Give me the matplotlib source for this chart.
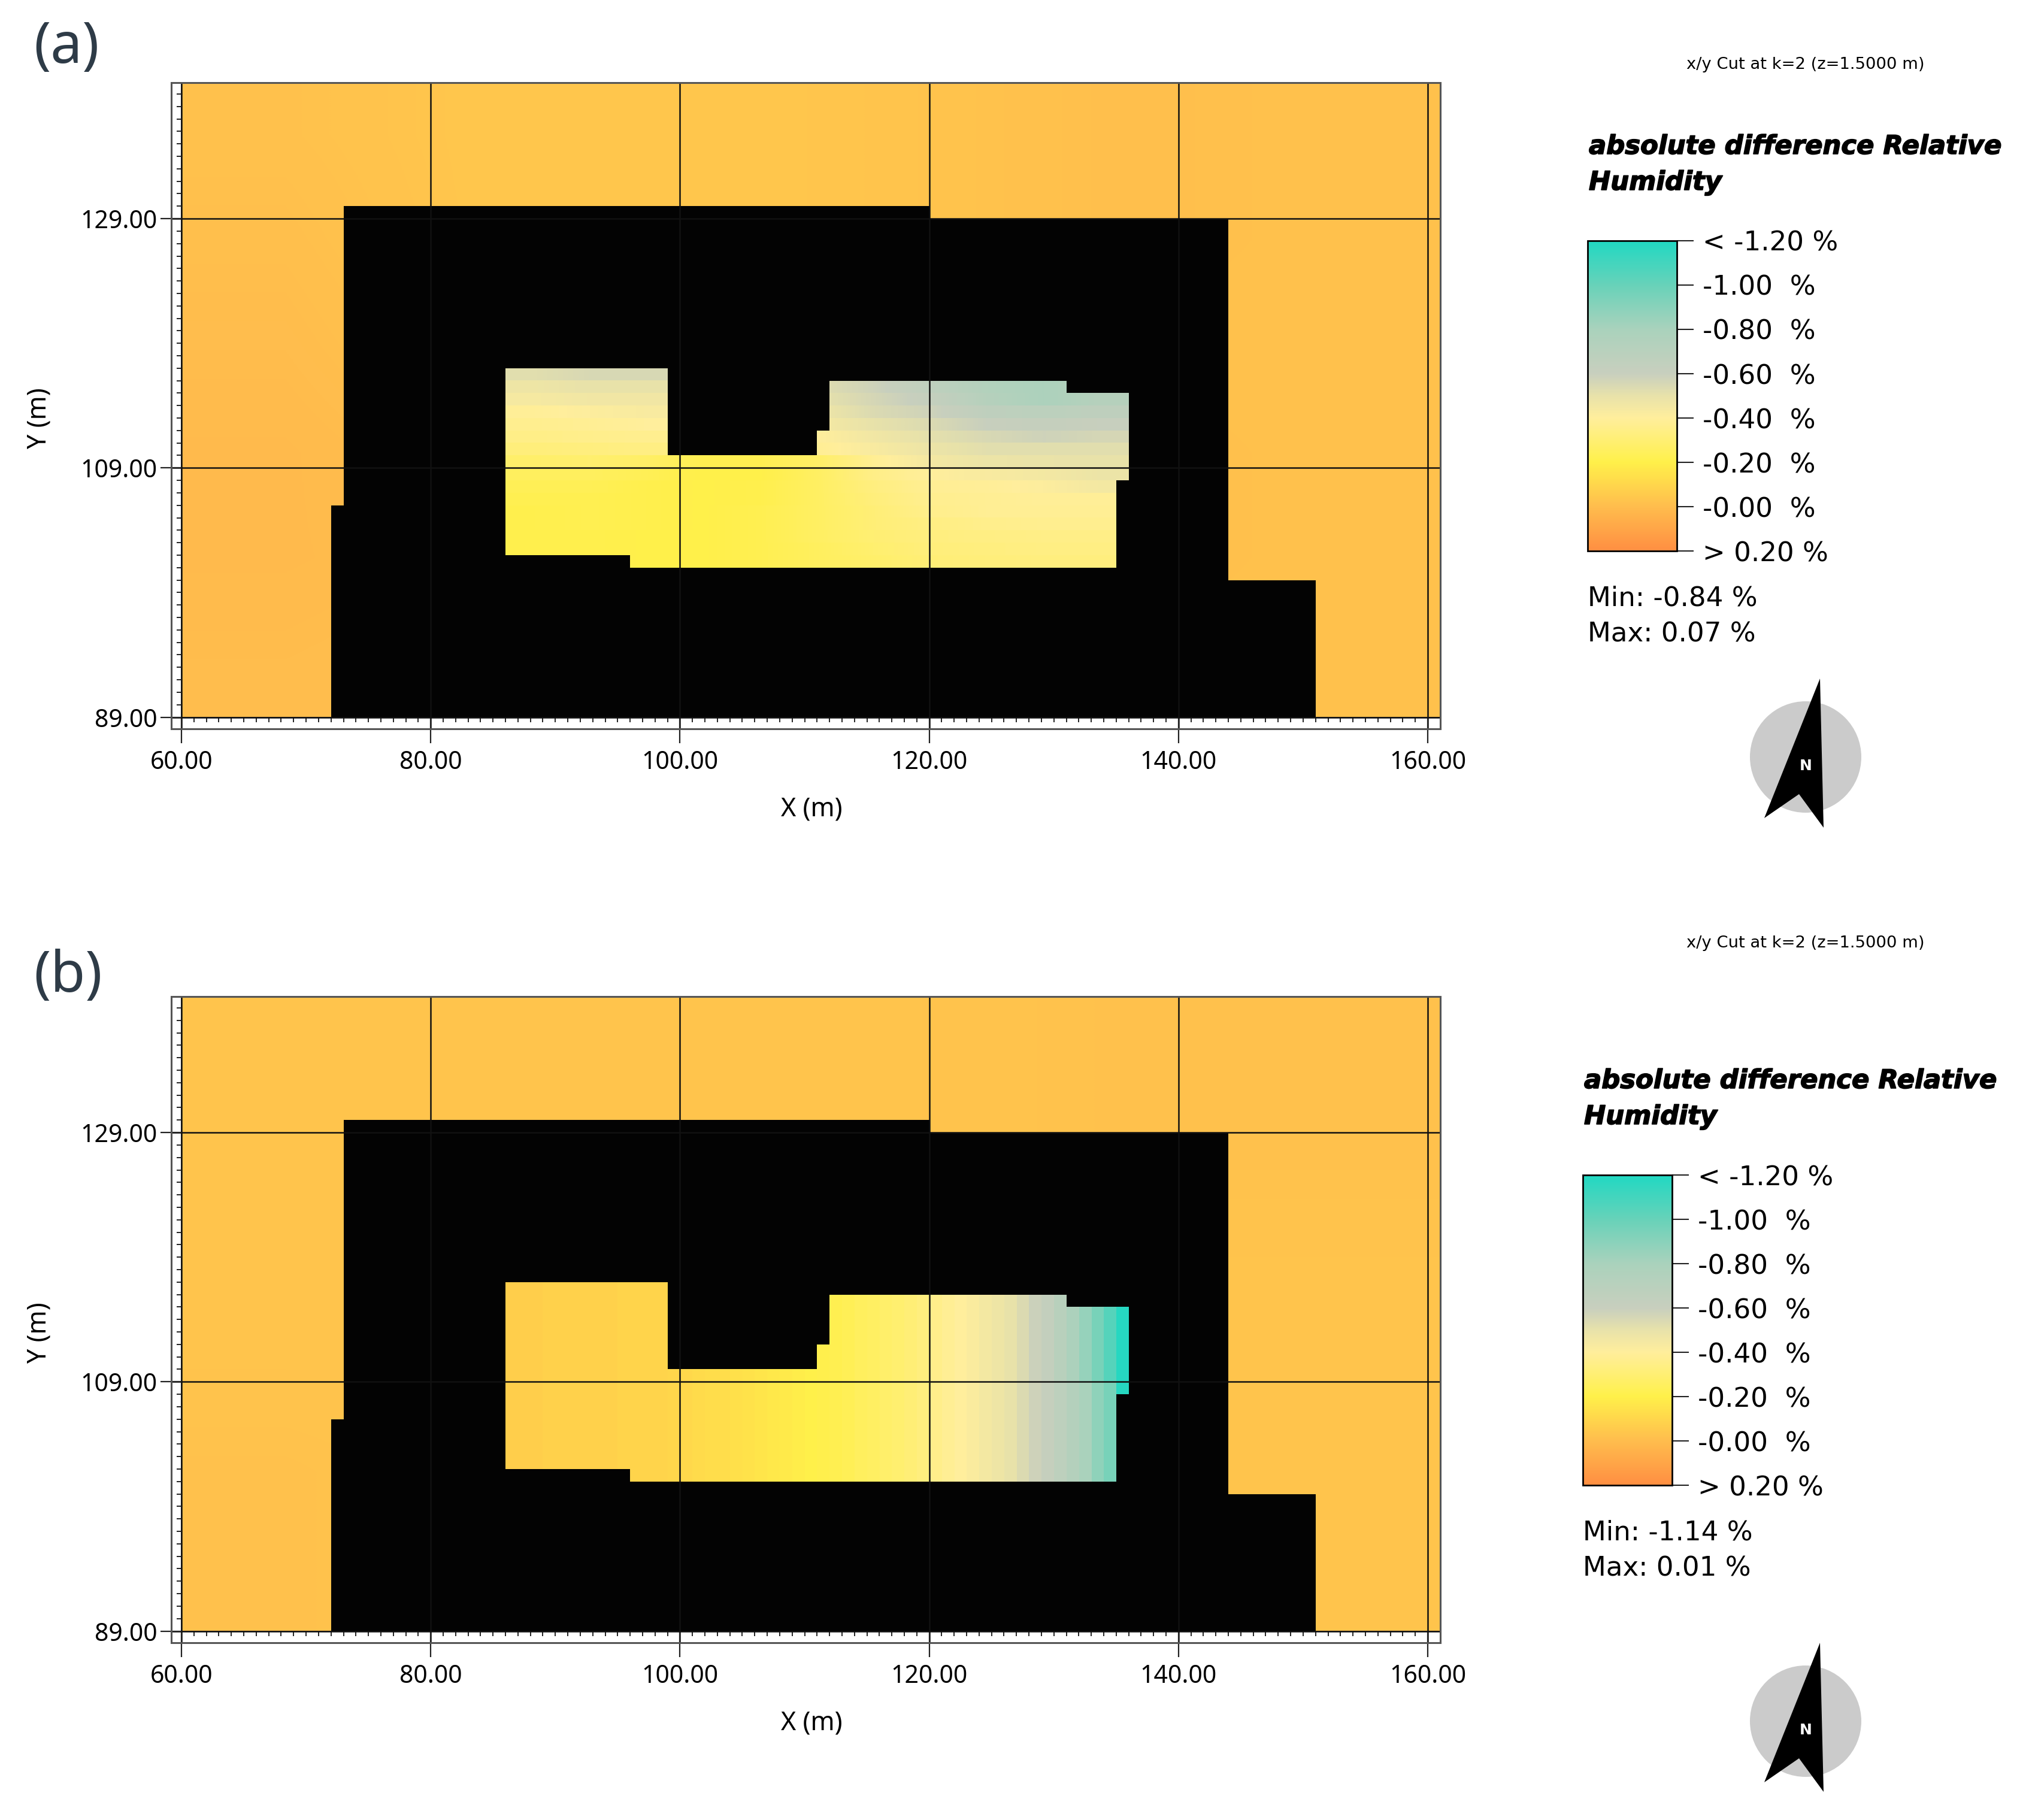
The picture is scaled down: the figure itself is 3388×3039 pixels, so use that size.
import numpy as np
import matplotlib
matplotlib.use('Agg')
import matplotlib.pyplot as plt
import matplotlib.patheffects as pe
from matplotlib.colors import LinearSegmentedColormap, Normalize
from matplotlib.cm import ScalarMappable
from matplotlib.patches import PathPatch, Rectangle, Ellipse, Polygon
from matplotlib.path import Path

W, H = 3388, 3039

# building outline and courtyard hole (m), hole runs the other way round
building_x = [72, 151, 151, 144, 144, 120, 120, 73, 73, 72, 72]
building_y = [89, 89, 100, 100, 129, 129, 130, 130, 106, 106, 89]
court_x = [86, 86, 99, 99, 111, 111, 112, 112, 131, 131, 136, 136, 135, 135, 96, 96, 86]
court_y = [102, 117, 117, 110, 110, 112, 112, 116, 116, 115, 115, 108, 108, 101, 101, 102, 102]

x_ticks = [60, 80, 100, 120, 140, 160]
x_labels = ['60.00', '80.00', '100.00', '120.00', '140.00', '160.00']
y_ticks = [89, 109, 129]
y_labels = ['89.00', '109.00', '129.00']

cbar_ticks = [-1.2, -1.0, -0.8, -0.6, -0.4, -0.2, 0.0, 0.2]
cbar_labels = ['< -1.20 %', '-1.00  %', '-0.80  %', '-0.60  %', '-0.40  %', '-0.20  %', '-0.00  %', '> 0.20 %']

cmap_vals = [-1.2, -1.0, -0.8, -0.6, -0.5, -0.4, -0.2, 0.0, 0.2]
cmap_cols = ['#20D8C2', '#68D2B9', '#AAD2BC', '#C8CFBE', '#E8E2AA', '#FFEE9C', '#FFF04A', '#FFBD4D', '#FF8E42']

# outside field, rows from top (y=140) to bottom (y=89), columns x=60..161
outside_a = [
    [-0.02, -0.04, -0.04, -0.03, -0.01, -0.02],
    [-0.01, -0.04, -0.04, -0.03, -0.01, -0.02],
    [0.00, -0.03, -0.03, -0.02, -0.02, -0.02],
    [0.01, -0.01, -0.02, -0.02, -0.01, -0.02],
    [0.01, 0.00, -0.02, -0.02, -0.01, -0.02],
    [0.00, -0.01, -0.02, -0.02, -0.02, -0.02],
]
outside_b = [
    [-0.03, -0.03, -0.03, -0.03, -0.02, -0.02],
    [-0.03, -0.03, -0.03, -0.03, -0.02, -0.02],
    [-0.03, -0.03, -0.03, -0.03, -0.03, -0.03],
    [-0.03, -0.03, -0.03, -0.03, -0.03, -0.03],
    [-0.02, -0.03, -0.03, -0.03, -0.03, -0.03],
    [-0.02, -0.03, -0.03, -0.03, -0.03, -0.03],
]

# courtyard (a): rows y=116.5 down to 101.5, columns x=86,91,...,136
court_a = [
    [-.52, -.55, -.55, -.55, -.55, -.55, -.60, -.68, -.78, -.86, -.80],
    [-.47, -.50, -.50, -.50, -.50, -.52, -.58, -.66, -.74, -.78, -.72],
    [-.44, -.46, -.46, -.46, -.48, -.50, -.56, -.62, -.72, -.78, -.72],
    [-.39, -.41, -.43, -.43, -.45, -.47, -.54, -.58, -.66, -.68, -.66],
    [-.37, -.38, -.40, -.40, -.42, -.44, -.50, -.54, -.60, -.62, -.60],
    [-.35, -.36, -.37, -.37, -.38, -.40, -.46, -.51, -.55, -.58, -.56],
    [-.32, -.33, -.34, -.34, -.35, -.38, -.43, -.48, -.52, -.52, -.52],
    [-.28, -.29, -.27, -.22, -.22, -.27, -.38, -.45, -.48, -.49, -.50],
    [-.25, -.25, -.23, -.20, -.20, -.26, -.35, -.40, -.43, -.45, -.48],
    [-.23, -.23, -.21, -.20, -.21, -.26, -.33, -.38, -.39, -.41, -.45],
    [-.22, -.22, -.21, -.20, -.21, -.26, -.32, -.37, -.38, -.39, -.39],
    [-.21, -.22, -.21, -.20, -.22, -.26, -.31, -.36, -.38, -.38, -.38],
    [-.21, -.22, -.21, -.20, -.22, -.26, -.31, -.34, -.36, -.37, -.37],
    [-.21, -.21, -.20, -.20, -.22, -.26, -.30, -.33, -.34, -.35, -.35],
    [-.21, -.21, -.20, -.20, -.22, -.25, -.29, -.32, -.33, -.34, -.34],
    [-.21, -.21, -.20, -.20, -.22, -.25, -.28, -.31, -.32, -.33, -.33],
]

# courtyard (b): one value per 1 m column, x=86..135, upper half then lower half
court_b_up = [-.07, -.07, -.07, -.08, -.08, -.08, -.08, -.08, -.08, -.09,
              -.09, -.09, -.09, -.10, -.11, -.12, -.13, -.13, -.14, -.15,
              -.16, -.17, -.18, -.19, -.20, -.21, -.22, -.23, -.25, -.26,
              -.28, -.29, -.31, -.33, -.36, -.38, -.40, -.42, -.45, -.47,
              -.50, -.54, -.59, -.63, -.70, -.78, -.86, -.95, -1.05, -1.18]
court_b_low = [-.07, -.07, -.07, -.08, -.08, -.08, -.08, -.08, -.08, -.09,
               -.09, -.09, -.09, -.10, -.11, -.12, -.13, -.13, -.14, -.15,
               -.16, -.17, -.18, -.19, -.20, -.21, -.22, -.23, -.25, -.26,
               -.28, -.29, -.31, -.33, -.36, -.38, -.40, -.42, -.45, -.47,
               -.50, -.54, -.58, -.62, -.67, -.73, -.80, -.88, -.95, -1.18]

cmap = LinearSegmentedColormap.from_list(
    'rh', [((v + 1.2) / 1.4, c) for v, c in zip(cmap_vals, cmap_cols)], N=512)
norm = Normalize(-1.2, 0.2)


def px_axes(fig, x0, y0, x1, y1):
    return fig.add_axes([x0 / W, 1 - y1 / H, (x1 - x0) / W, (y1 - y0) / H])


def px_text(fig, x, y, s, **kw):
    return fig.text(x / W, 1 - y / H, s, **kw)


def panel(fig, top, outside, court, banded, letter, min_txt, max_txt, bar_x, bar_top, bar_bot,
          title_x, title_y, min_y, hdr_y, lab_y, x_lab_y, y_lab_y, arrow_dy):
    frame_bot = top + 1079
    y89 = top + 1059.5
    ax = px_axes(fig, 286, top, 2405, frame_bot)
    pxm = 20.81
    ax.set_xlim(60 - 17 / pxm, 160 + 21 / pxm)
    ax.set_ylim(89 - (frame_bot - y89) / pxm, 89 + (y89 - top) / pxm)
    ylim = ax.get_ylim()
    xlim = ax.get_xlim()

    ax.imshow(outside, cmap=cmap, norm=norm, extent=[60, xlim[1], 89, ylim[1]],
              aspect='auto', interpolation='bilinear', zorder=0)
    if banded:
        # (a) steps from row to row, smooth along each row
        for i, row in enumerate(court):
            ax.imshow([row], cmap=cmap, norm=norm, extent=[86, 136, 116 - i, 117 - i],
                      aspect='auto', interpolation='bilinear', zorder=0.5)
    else:
        ax.imshow(court, cmap=cmap, norm=norm, extent=[86, 136, 101, 117],
                  aspect='auto', interpolation='nearest', zorder=0.5)

    verts = list(zip(building_x, building_y)) + list(zip(court_x, court_y))
    codes = ([Path.MOVETO] + [Path.LINETO] * (len(building_x) - 1)
             + [Path.MOVETO] + [Path.LINETO] * (len(court_x) - 1))
    ax.add_patch(PathPatch(Path(verts, codes), fc='#030303', ec='none', zorder=1))

    ax.set_xlim(xlim)
    ax.set_ylim(ylim)

    for s in ['top', 'right']:
        ax.spines[s].set_visible(False)
    ax.spines['bottom'].set_position(('data', 89))
    ax.spines['left'].set_position(('data', 60))
    ax.spines['bottom'].set_linewidth(1.2)
    ax.spines['left'].set_linewidth(1.2)
    ax.spines['left'].set_bounds(89, ylim[1])
    ax.spines['bottom'].set_bounds(60, xlim[1])

    ax.set_xticks(x_ticks)
    ax.set_xticklabels(x_labels, fontfamily='Noto Sans', fontsize=29.5)
    ax.set_yticks(y_ticks)
    ax.set_yticklabels(y_labels, fontfamily='Noto Sans', fontsize=29.5)
    ax.set_xticks(np.arange(60, 162), minor=True)
    ax.set_yticks(np.arange(89, 140), minor=True)
    ax.tick_params(which='major', axis='x', length=31, width=1.6, pad=8, color='#222222')
    ax.tick_params(which='major', axis='y', length=25, width=1.6, pad=4, color='#222222')
    ax.tick_params(which='minor', length=6, width=1.4, color='#222222')
    ax.grid(which='major', color='#111111', lw=1.8)
    ax.set_axisbelow(False)

    ax.add_patch(Rectangle((0, 0), 1, 1, transform=ax.transAxes, fill=False, ec='#555555',
                           lw=2.2, clip_on=False, zorder=3))

    px_text(fig, 1355, x_lab_y, 'X (m)', fontfamily='Noto Sans', fontsize=31, ha='center', va='center')
    px_text(fig, 65, y_lab_y, 'Y (m)', fontfamily='Noto Sans', fontsize=31, ha='center', va='center',
            rotation=90)
    px_text(fig, 56, lab_y, letter, fontfamily='Noto Sans', fontsize=68, color='#2E3B47', va='center')

    px_text(fig, 3015, hdr_y, 'x/y Cut at k=2 (z=1.5000 m)', fontsize=19.7, ha='center', va='center')
    heavy = [pe.withStroke(linewidth=1.2, foreground='black')]
    px_text(fig, title_x, title_y, 'absolute difference Relative', fontsize=31.2, fontweight='bold',
            fontstyle='italic', va='center', path_effects=heavy)
    px_text(fig, title_x, title_y + 60, 'Humidity', fontsize=31.2, fontweight='bold',
            fontstyle='italic', va='center', path_effects=heavy)

    cax = px_axes(fig, bar_x, bar_top, bar_x + 149, bar_bot)
    cb = fig.colorbar(ScalarMappable(norm=norm, cmap=cmap), cax=cax)
    cax.invert_yaxis()
    cb.set_ticks(cbar_ticks)
    cb.set_ticklabels(cbar_labels)
    cb.outline.set_linewidth(2)
    cax.tick_params(length=20, width=1.5, pad=11, labelsize=32.5, color='#222222')

    px_text(fig, bar_x, min_y, min_txt, fontsize=32.5, va='center')
    px_text(fig, bar_x, min_y + 60, max_txt, fontsize=32.5, va='center')

    # north arrow
    over = fig.add_axes([0, 0, 1, 1], facecolor='none')
    over.set_xlim(0, W)
    over.set_ylim(H, 0)
    over.axis('off')
    over.add_patch(Ellipse((3015, 1264 + arrow_dy), 186, 186, fc='#CBCBCB', ec='none'))
    over.add_patch(Polygon([(3039, 1133 + arrow_dy), (3045, 1382 + arrow_dy), (3004, 1326 + arrow_dy),
                            (2946, 1366 + arrow_dy)], fc='black', ec='none'))
    over.text(3015, 1279 + arrow_dy, 'N', color='white', fontsize=18, fontweight='bold',
              ha='center', va='center')


fig = plt.figure(figsize=(W / 100, H / 100), dpi=100)

panel(fig, 138, outside_a, court_a, True, '(a)', 'Min: -0.84 %', 'Max: 0.07 %',
      2651, 402, 920, 2653, 245, 999, 108, 80, 1351, 698, 0)
panel(fig, 1664, outside_b, [court_b_up, court_b_low], False, '(b)', 'Min: -1.14 %', 'Max: 0.01 %',
      2643, 1962, 2480, 2645, 1805, 2559, 1575, 1631, 2878, 2225, 1610)

fig.savefig('out.png', dpi=100)
